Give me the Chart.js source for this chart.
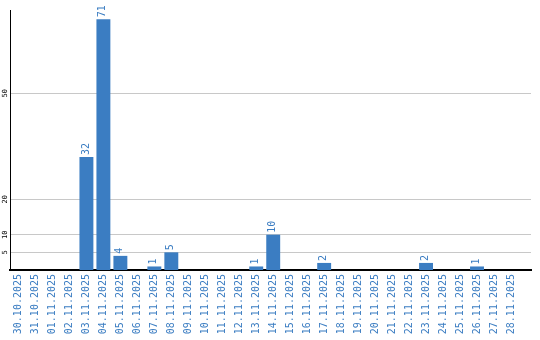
<!DOCTYPE html>
<html>
<head>
<meta charset="utf-8">
<script src="https://cdn.jsdelivr.net/npm/chart.js@4"></script>
<style>
    html, body { margin: 0; padding: 0; background: #fff; }
    #wrap { width: 540px; height: 340px; }
</style>
</head>
<body>
<div id="wrap"><canvas id="chart" width="540" height="340"></canvas></div>
<script>
const dates = [
    "30.10.2025", "31.10.2025", "01.11.2025", "02.11.2025", "03.11.2025",
    "04.11.2025", "05.11.2025", "06.11.2025", "07.11.2025", "08.11.2025",
    "09.11.2025", "10.11.2025", "11.11.2025", "12.11.2025", "13.11.2025",
    "14.11.2025", "15.11.2025", "16.11.2025", "17.11.2025", "18.11.2025",
    "19.11.2025", "20.11.2025", "21.11.2025", "22.11.2025", "23.11.2025",
    "24.11.2025", "25.11.2025", "26.11.2025", "27.11.2025", "28.11.2025"
];
const counts = [
    0, 0, 0, 0, 32,
    71, 4, 0, 1, 5,
    0, 0, 0, 0, 1,
    10, 0, 0, 2, 0,
    0, 0, 0, 0, 2,
    0, 0, 1, 0, 0
];
const yTicks = [5, 10, 20, 50];

const BLUE = "#3b7dc2";
const MONO = "'DejaVu Sans Mono', monospace";

// Y tick labels, rotated like the x labels
const yLabelsPlugin = {
    id: "yLabels",
    afterDraw(chart) {
        const ctx = chart.ctx;
        const y = chart.scales.y;
        ctx.save();
        ctx.fillStyle = "#000";
        ctx.font = "7px " + MONO;
        ctx.textAlign = "center";
        ctx.textBaseline = "middle";
        yTicks.forEach(v => {
            const py = y.getPixelForValue(v);
            ctx.save();
            ctx.translate(5, py);
            ctx.rotate(-Math.PI / 2);
            ctx.fillText(String(v), 0, 0);
            ctx.restore();
        });
        ctx.restore();
    }
};

// Value labels above bars
const valueLabelsPlugin = {
    id: "valueLabels",
    afterDatasetsDraw(chart) {
        const ctx = chart.ctx;
        const meta = chart.getDatasetMeta(0);
        ctx.save();
        ctx.fillStyle = BLUE;
        ctx.font = "10px " + MONO;
        ctx.textAlign = "left";
        ctx.textBaseline = "middle";
        meta.data.forEach((bar, i) => {
            if (!counts[i]) return;
            ctx.save();
            ctx.translate(bar.x - 0.5, bar.y - 2);
            ctx.rotate(-Math.PI / 2);
            ctx.fillText(String(counts[i]), 0, 0);
            ctx.restore();
        });
        ctx.restore();
    }
};

new Chart(document.getElementById("chart"), {
    type: "bar",
    data: {
        datasets: [{
            data: counts.map((v, i) => ({ x: i, y: v })),
            backgroundColor: BLUE,
            borderWidth: 0,
            barPercentage: 0.82,
            categoryPercentage: 1
        }]
    },
    options: {
        responsive: false,
        animation: false,
        events: [],
        layout: { padding: { top: 10, right: 9, left: 0, bottom: 0 } },
        plugins: { legend: { display: false }, tooltip: { enabled: false } },
        scales: {
            x: {
                type: "linear",
                offset: false,
                min: -0.5,
                max: 30.18,
                afterBuildTicks: scale => { scale.ticks = dates.map((_, i) => ({ value: i })); },
                afterFit: scale => { scale.height = 70; },
                grid: { display: false, drawTicks: false, offset: false },
                border: { display: true, color: "#000", width: 2 },
                ticks: {
                    autoSkip: false,
                    minRotation: 90,
                    maxRotation: 90,
                    padding: 4,
                    color: BLUE,
                    font: { family: MONO, size: 10 },
                    callback: v => dates[v]
                }
            },
            y: {
                min: 0,
                max: 73.6,
                afterBuildTicks: scale => { scale.ticks = yTicks.map(v => ({ value: v })); },
                afterFit: scale => { scale.width = 10; },
                grid: { color: "#c8c8c8", lineWidth: 1, drawTicks: false },
                border: { display: true, color: "#000", width: 1 },
                ticks: { display: false }
            }
        }
    },
    plugins: [yLabelsPlugin, valueLabelsPlugin]
});
</script>
</body>
</html>
